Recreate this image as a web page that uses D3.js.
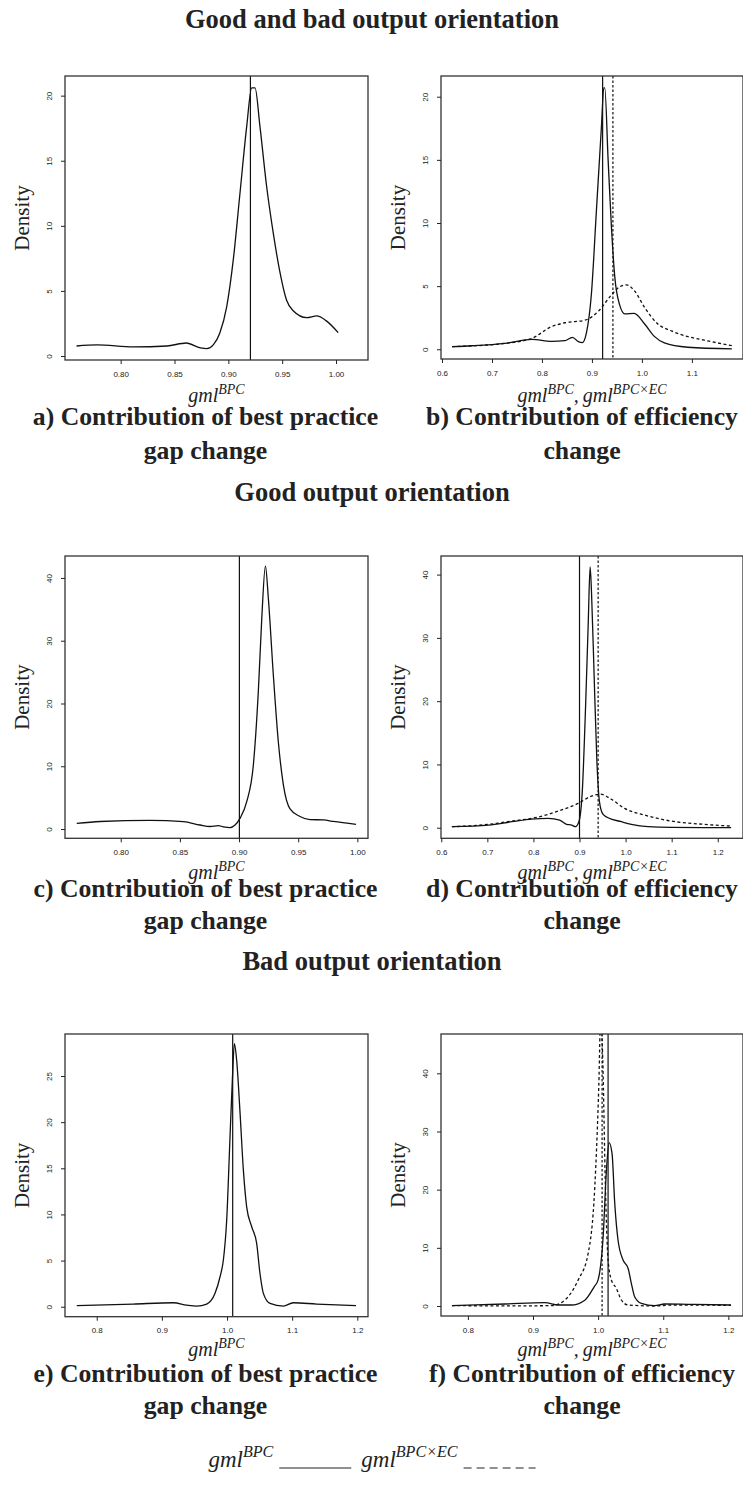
<!DOCTYPE html>
<html>
<head>
<meta charset="utf-8">
<script src="https://cdn.jsdelivr.net/npm/d3@7"></script>
<style>
  body { margin: 0; background: #fff; }
</style>
</head>
<body>
<svg id="chart" width="743" height="1488"></svg>
<script>
// density curves, [x, density]
var densA = [[0.759,0.77],[0.778,0.85],[0.812,0.70],[0.843,0.77],[0.861,1.0],[0.874,0.62],[0.880,0.56],
  [0.886,0.85],[0.892,1.75],[0.8985,3.8],[0.9046,7.4],[0.9108,12.5],[0.917,17.6],[0.9217,20.6],[0.9248,20.6],
  [0.9294,17.6],[0.9356,13.0],[0.9418,9.4],[0.948,6.4],[0.954,4.3],[0.960,3.5],[0.9728,2.95],[0.982,3.08],
  [0.991,2.7],[1.002,1.8]];
var densB_bpc = [[0.62,0.21],[0.66,0.28],[0.726,0.47],[0.78,0.78],[0.819,0.62],[0.846,0.68],[0.861,0.95],
  [0.873,0.6],[0.8806,0.52],[0.889,1.3],[0.899,4.4],[0.909,11.0],[0.919,17.6],[0.9237,20.7],[0.9257,20.7],
  [0.9324,15.0],[0.939,9.7],[0.9457,5.75],[0.9556,3.5],[0.966,2.8],[0.9846,2.85],[1.0055,2.0],[1.0255,1.0],
  [1.045,0.5],[1.092,0.16],[1.18,0.03]];
var densB_ec = [[0.62,0.21],[0.726,0.47],[0.78,0.87],[0.819,1.79],[0.846,2.1],[0.886,2.3],[0.9125,3.0],
  [0.939,4.3],[0.9556,4.95],[0.969,5.1],[0.9856,4.6],[1.0055,3.3],[1.032,2.0],[1.059,1.45],[1.092,1.0],
  [1.125,0.72],[1.18,0.28]];
var densC = [[0.7628,0.9],[0.7825,1.2],[0.8248,1.38],[0.853,1.17],[0.867,0.64],[0.8755,0.4],[0.8825,0.55],
  [0.8868,0.35],[0.8924,0.22],[0.8966,0.64],[0.9008,1.7],[0.9065,4.35],[0.9121,10.2],[0.9163,21.9],
  [0.9192,33.5],[0.9223,41.9],[0.9248,36.7],[0.929,24.5],[0.9332,13.9],[0.9375,7.0],[0.9431,3.2],
  [0.9515,2.0],[0.96,1.5],[0.9713,1.45],[0.9797,1.2],[0.9989,0.74]];
var densD_bpc = [[0.623,0.16],[0.7024,0.42],[0.753,0.95],[0.796,1.37],[0.832,1.47],[0.857,1.2],[0.872,0.53],
  [0.883,0.42],[0.891,0.16],[0.8986,0.95],[0.906,5.7],[0.913,18.8],[0.9188,32],[0.923,41.2],[0.926,37.3],
  [0.9317,24.1],[0.9375,10.9],[0.9433,4.1],[0.9512,2.1],[0.962,1.58],[0.9909,0.95],[1.0125,0.53],
  [1.0486,0.16],[1.099,0.05],[1.229,0.02]];
var densD_ec = [[0.623,0.16],[0.7024,0.53],[0.753,1.05],[0.8034,1.58],[0.854,2.63],[0.897,3.84],[0.926,5.0],
  [0.945,5.3],[0.969,4.5],[0.998,3.05],[1.0413,2.0],[1.099,1.05],[1.171,0.53],[1.229,0.26]];
var densE = [[0.7693,0.11],[0.856,0.29],[0.9176,0.43],[0.938,0.18],[0.9535,0.07],[0.9688,0.29],[0.9816,1.45],
  [0.9893,3.25],[0.9944,5.06],[0.9995,9.4],[1.0046,18.4],[1.0082,24.6],[1.0113,28.5],[1.0148,26.7],
  [1.02,21.0],[1.0251,14.8],[1.0302,10.8],[1.0379,8.67],[1.0455,6.86],[1.0506,3.6],[1.0558,1.45],
  [1.066,0.36],[1.0864,0.07],[1.1018,0.43],[1.1376,0.29],[1.198,0.11]];
var densF_bpc = [[0.7755,0.06],[0.857,0.34],[0.9184,0.57],[0.9388,0.17],[0.959,0.17],[0.9796,1.0],
  [0.9939,3.3],[1.0,4.5],[1.0077,11.9],[1.0128,23.4],[1.0168,28.1],[1.0214,26.2],[1.0255,17.7],
  [1.0306,11.3],[1.0383,7.9],[1.046,6.5],[1.051,3.9],[1.0561,1.6],[1.0663,0.46],[1.0867,0.06],
  [1.102,0.34],[1.1378,0.29],[1.204,0.17]];
var densF_ec = [[0.7755,0.06],[0.87,0.02],[0.9286,0.06],[0.949,1.03],[0.9694,4.47],[0.9847,9.05],
  [0.9949,20.5],[1.001,37.7],[1.004,50],[1.0071,42.3],[1.0112,20.5],[1.0153,7.9],[1.0204,4.47],
  [1.028,3.04],[1.0357,1.03],[1.046,0.17],[1.087,0.0],[1.112,0.17],[1.204,0.11]];

// vertical reference lines [gml BPC, gml BPCxEC]
var vlA = [0.9205];
var vlB = [0.9214, 0.942];
var vlC = [0.9003];
var vlD = [0.900, 0.9404];
var vlE = [1.0087];
var vlF = [1.0153, 1.0061];

// tick values
var ticksA_x = [0.80, 0.85, 0.90, 0.95, 1.00], ticksA_y = [0, 5, 10, 15, 20];
var ticksB_x = [0.6, 0.7, 0.8, 0.9, 1.0, 1.1], ticksB_y = [0, 5, 10, 15, 20];
var ticksC_x = [0.80, 0.85, 0.90, 0.95, 1.00], ticksC_y = [0, 10, 20, 30, 40];
var ticksD_x = [0.6, 0.7, 0.8, 0.9, 1.0, 1.1, 1.2], ticksD_y = [0, 10, 20, 30, 40];
var ticksE_x = [0.8, 0.9, 1.0, 1.1, 1.2], ticksE_y = [0, 5, 10, 15, 20, 25];
var ticksF_x = [0.8, 0.9, 1.0, 1.1, 1.2], ticksF_y = [0, 10, 20, 30, 40];

// texts
var titles = ["Good and bad output orientation", "Good output orientation", "Bad output orientation"];
var captions = [
  ["a) Contribution of best practice", "gap change"], ["b) Contribution of efficiency", "change"],
  ["c) Contribution of best practice", "gap change"], ["d) Contribution of efficiency", "change"],
  ["e) Contribution of best practice", "gap change"], ["f) Contribution of efficiency", "change"]];
var labOne = [["gml", 0], ["BPC", 1]];
var labTwo = [["gml", 0], ["BPC", 1], [",\u2009gml", 0], ["BPC\u00d7EC", 1]];

var svg = d3.select("#chart");
var SERIF = "'Liberation Serif', 'Times New Roman', serif";
var SANS = "'Liberation Sans', Arial, sans-serif";

var L = [65, 368], R = [441, 743];
var rows = [[76, 360], [556, 838.3], [1034, 1316.7]];

var panels = [
  {box: [L[0], rows[0][0], L[1], rows[0][1]], xd: [0.7483, 1.0297], yd: [-0.307, 21.51], xt: ticksA_x, yt: ticksA_y, fmt: ".2f",
   curves: [[densA, 0]], vl: [[vlA[0], 0]], lab: labOne},
  {box: [R[0], rows[0][0], R[1], 359], xd: [0.598, 1.2023], yd: [-0.77, 21.64], xt: ticksB_x, yt: ticksB_y, fmt: ".1f",
   curves: [[densB_bpc, 0], [densB_ec, 1]], vl: [[vlB[0], 0], [vlB[1], 1]], lab: labTwo},
  {box: [L[0], rows[1][0], L[1], rows[1][1]], xd: [0.7529, 1.009], yd: [-1.48, 43.5], xt: ticksC_x, yt: ticksC_y, fmt: ".2f",
   curves: [[densC, 0]], vl: [[vlC[0], 0]], lab: labOne},
  {box: [R[0], rows[1][0], R[1], rows[1][1]], xd: [0.5994, 1.2548], yd: [-1.67, 42.94], xt: ticksD_x, yt: ticksD_y, fmt: ".1f",
   curves: [[densD_bpc, 0], [densD_ec, 1]], vl: [[vlD[0], 0], [vlD[1], 1]], lab: labTwo},
  {box: [L[0], rows[2][0], L[1], rows[2][1]], xd: [0.7513, 1.2164], yd: [-1.08, 29.55], xt: ticksE_x, yt: ticksE_y, fmt: ".1f",
   curves: [[densE, 0]], vl: [[vlE[0], 0]], lab: labOne},
  {box: [R[0], rows[2][0], R[1], 1316], xd: [0.7587, 1.2225], yd: [-1.72, 46.76], xt: ticksF_x, yt: ticksF_y, fmt: ".1f",
   curves: [[densF_bpc, 0], [densF_ec, 1]], vl: [[vlF[0], 0], [vlF[1], 1]], lab: labTwo}
];

// italic label with superscripts
function supText(parent, x, y, parts, size, anchor){
  var t = parent.append("text")
    .attr("x", x).attr("y", y)
    .attr("text-anchor", anchor || "middle")
    .style("font-family", SERIF)
    .style("font-style", "italic")
    .style("font-size", size + "px")
    .attr("fill", "#222");
  var up = false;
  parts.forEach(function(p){
    var ts = t.append("tspan").text(p[0]);
    if (p[1]) {
      ts.style("font-size", (size * 0.7) + "px");
      if (!up) { ts.attr("dy", -0.42 * size); up = true; }
    } else if (up) {
      ts.attr("dy", 0.42 * size); up = false;
    }
  });
  return t;
}

var labBase = [402, 879, 1356];
var capBase = [[425, 459], [897, 929], [1382, 1414]];
var titleBase = [28, 501, 970];

panels.forEach(function(p, i){
  var g = svg.append("g");
  var b = p.box;
  var x = d3.scaleLinear().domain(p.xd).range([b[0], b[2]]);
  var y = d3.scaleLinear().domain(p.yd).range([b[3], b[1]]);

  var cid = "clip" + i;
  svg.append("clipPath").attr("id", cid).append("rect")
    .attr("x", b[0]).attr("y", b[1]).attr("width", b[2] - b[0]).attr("height", b[3] - b[1]);

  var line = d3.line()
    .x(function(d){ return x(d[0]); })
    .y(function(d){ return y(d[1]); })
    .curve(d3.curveMonotoneX);

  var inner = g.append("g").attr("clip-path", "url(#" + cid + ")");
  p.curves.forEach(function(c){
    inner.append("path")
      .attr("d", line(c[0]))
      .attr("fill", "none")
      .attr("stroke", "#111")
      .attr("stroke-width", 1.3)
      .attr("stroke-dasharray", c[1] ? "3,2.5" : null);
  });
  p.vl.forEach(function(v){
    inner.append("line")
      .attr("x1", x(v[0])).attr("x2", x(v[0]))
      .attr("y1", b[1]).attr("y2", b[3])
      .attr("stroke", "#111")
      .attr("stroke-width", 1.2)
      .attr("stroke-dasharray", v[1] ? "2.5,2" : null);
  });

  g.append("rect")
    .attr("x", b[0]).attr("y", b[1])
    .attr("width", b[2] - b[0]).attr("height", b[3] - b[1])
    .attr("fill", "none").attr("stroke", "#333").attr("stroke-width", 1.3);

  var xa = g.append("g")
    .attr("transform", "translate(0," + b[3] + ")")
    .call(d3.axisBottom(x).tickValues(p.xt).tickSize(4).tickPadding(7).tickFormat(d3.format(p.fmt)));
  var ya = g.append("g")
    .attr("transform", "translate(" + b[0] + ",0)")
    .call(d3.axisLeft(y).tickValues(p.yt).tickSize(4).tickFormat(d3.format("d")));
  [xa, ya].forEach(function(a){
    a.select(".domain").remove();
    a.selectAll("line").attr("stroke", "#222").attr("stroke-width", 1);
    a.selectAll("text").style("font-family", SANS).style("font-size", "8px").attr("fill", "#222");
  });
  ya.selectAll("text")
    .attr("x", 0).attr("dy", 0)
    .attr("text-anchor", "middle")
    .attr("transform", "translate(-13,0) rotate(-90)");

  var right = i % 2 === 1;
  var cy = (b[1] + b[3]) / 2;
  g.append("text")
    .attr("transform", "translate(" + (b[0] - 36) + "," + cy + ") rotate(-90)")
    .attr("text-anchor", "middle")
    .style("font-family", SERIF)
    .style("font-size", "21px")
    .attr("fill", "#222")
    .text("Density");

  var row = Math.floor(i / 2);
  supText(svg, (b[0] + b[2]) / 2, labBase[row], p.lab, 20);

  var capX = right ? 582 : 205.5;
  captions[i].forEach(function(s, k){
    svg.append("text")
      .attr("x", capX).attr("y", capBase[row][k])
      .attr("text-anchor", "middle")
      .style("font-family", SERIF)
      .style("font-weight", "bold")
      .style("font-size", "25.7px")
      .attr("fill", "#222")
      .text(s);
  });
});

titles.forEach(function(s, r){
  svg.append("text")
    .attr("x", 372).attr("y", titleBase[r])
    .attr("text-anchor", "middle")
    .style("font-family", SERIF)
    .style("font-weight", "bold")
    .style("font-size", "26.5px")
    .attr("fill", "#222")
    .text(s);
});

// legend, laid out left to right and centred
var leg = svg.append("g");
var legY = 1467;
var t1 = supText(leg, 0, legY, labOne, 23, "start");
var w1 = t1.node().getComputedTextLength();
var t2 = supText(leg, 0, legY, labTwo.slice(0, 1).concat([["BPC\u00d7EC", 1]]), 23, "start");
var w2 = t2.node().getComputedTextLength();
var lineW = 72, gap = 6, gap2 = 10;
var total = w1 + gap + lineW + gap2 + w2 + gap + lineW;
var x0 = 372 - total / 2;
t1.attr("x", x0);
leg.append("line")
  .attr("x1", x0 + w1 + gap).attr("x2", x0 + w1 + gap + lineW)
  .attr("y1", legY + 1).attr("y2", legY + 1)
  .attr("stroke", "#222").attr("stroke-width", 1.2);
var x2 = x0 + w1 + gap + lineW + gap2;
t2.attr("x", x2);
leg.append("line")
  .attr("x1", x2 + w2 + gap).attr("x2", x2 + w2 + gap + lineW)
  .attr("y1", legY + 1).attr("y2", legY + 1)
  .attr("stroke", "#222").attr("stroke-width", 1.2)
  .attr("stroke-dasharray", "8,5");
</script>
</body>
</html>
